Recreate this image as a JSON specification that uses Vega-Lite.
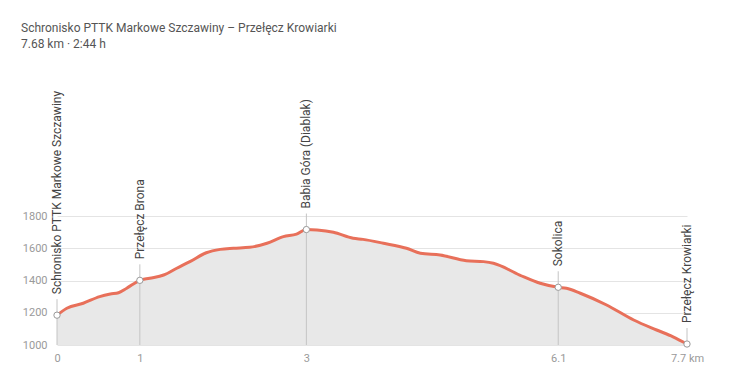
{
  "$schema": "https://vega.github.io/schema/vega-lite/v6.json",
  "width": 630,
  "height": 129,
  "autosize": {"type": "none"},
  "padding": {"left": 57, "top": 216, "right": 46, "bottom": 32},
  "background": "#ffffff",
  "config": {
    "font": "Roboto",
    "view": {"stroke": null}
  },
  "title": {
    "text": "Schronisko PTTK Markowe Szczawiny – Przełęcz Krowiarki",
    "subtitle": "7.68 km · 2:44 h",
    "anchor": "start",
    "frame": "group",
    "dx": -36,
    "offset": 40,
    "font": "Roboto",
    "fontSize": 12,
    "fontWeight": "normal",
    "color": "#555555",
    "subtitleFont": "Roboto",
    "subtitleFontSize": 12,
    "subtitleColor": "#555555",
    "subtitlePadding": 4
  },
  "datasets": {
    "profile": [
      {"km": 0, "ele": 1185},
      {"km": 0.12, "ele": 1228},
      {"km": 0.32, "ele": 1259},
      {"km": 0.52, "ele": 1300},
      {"km": 0.65, "ele": 1316},
      {"km": 0.75, "ele": 1324},
      {"km": 0.85, "ele": 1352},
      {"km": 1.01, "ele": 1401},
      {"km": 1.13, "ele": 1414},
      {"km": 1.30, "ele": 1434},
      {"km": 1.46, "ele": 1476},
      {"km": 1.62, "ele": 1517},
      {"km": 1.82, "ele": 1572},
      {"km": 1.99, "ele": 1593},
      {"km": 2.15, "ele": 1600},
      {"km": 2.35, "ele": 1606},
      {"km": 2.56, "ele": 1631},
      {"km": 2.76, "ele": 1672},
      {"km": 2.92, "ele": 1688},
      {"km": 3.04, "ele": 1716},
      {"km": 3.17, "ele": 1713},
      {"km": 3.37, "ele": 1699},
      {"km": 3.61, "ele": 1662},
      {"km": 3.73, "ele": 1655},
      {"km": 3.98, "ele": 1631},
      {"km": 4.26, "ele": 1600},
      {"km": 4.43, "ele": 1569},
      {"km": 4.67, "ele": 1558},
      {"km": 4.99, "ele": 1523},
      {"km": 5.20, "ele": 1517},
      {"km": 5.32, "ele": 1507},
      {"km": 5.64, "ele": 1434},
      {"km": 5.89, "ele": 1383},
      {"km": 6.11, "ele": 1358},
      {"km": 6.21, "ele": 1352},
      {"km": 6.38, "ele": 1321},
      {"km": 6.70, "ele": 1248},
      {"km": 7.03, "ele": 1155},
      {"km": 7.31, "ele": 1093},
      {"km": 7.51, "ele": 1051},
      {"km": 7.68, "ele": 1006}
    ],
    "waypoints": [
      {"km": 0, "ele": 1185, "name": "Schronisko PTTK Markowe Szczawiny"},
      {"km": 1.01, "ele": 1401, "name": "Przełęcz Brona"},
      {"km": 3.04, "ele": 1716, "name": "Babia Góra (Diablak)"},
      {"km": 6.11, "ele": 1358, "name": "Sokolica"},
      {"km": 7.68, "ele": 1006, "name": "Przełęcz Krowiarki"}
    ]
  },
  "encoding": {
    "x": {
      "field": "km",
      "type": "quantitative",
      "scale": {"domain": [0, 7.68], "nice": false, "zero": false},
      "axis": {
        "title": null,
        "grid": false,
        "domain": false,
        "ticks": false,
        "values": [0, 1.01, 3.04, 6.11, 7.68],
        "labelExpr": "toString(round(datum.value * 10) / 10) + (datum.value > 7.6 ? ' km' : '')",
        "labelFont": "Roboto",
        "labelFontSize": 11,
        "labelColor": "#9a9a9a",
        "labelPadding": 7,
        "labelFlush": false,
        "labelOverlap": false
      }
    },
    "y": {
      "field": "ele",
      "type": "quantitative",
      "scale": {"domain": [1000, 1800], "nice": false, "zero": false},
      "axis": {
        "title": null,
        "values": [1000, 1200, 1400, 1600, 1800],
        "format": "d",
        "domain": false,
        "ticks": false,
        "grid": true,
        "gridColor": "#e4e4e4",
        "gridWidth": 1,
        "labelFont": "Roboto",
        "labelFontSize": 11,
        "labelColor": "#9a9a9a",
        "labelPadding": 10
      }
    }
  },
  "layer": [
    {
      "data": {"name": "profile"},
      "mark": {"type": "area", "color": "#e8e8e8", "opacity": 1, "interpolate": "monotone"},
      "encoding": {"y2": {"datum": 1000}}
    },
    {
      "data": {"name": "profile"},
      "mark": {"type": "line", "color": "#e8705a", "strokeWidth": 3, "interpolate": "monotone"}
    },
    {
      "data": {"name": "waypoints"},
      "mark": {"type": "rule", "color": "#c4c4c4", "strokeWidth": 1, "y2Offset": -16},
      "encoding": {
        "y": {"datum": 1000},
        "y2": {"field": "ele"}
      }
    },
    {
      "data": {"name": "waypoints"},
      "mark": {"type": "point", "filled": true, "fill": "#ffffff", "stroke": "#9a9a9a", "strokeWidth": 1, "size": 40, "opacity": 1}
    },
    {
      "data": {"name": "waypoints"},
      "mark": {"type": "text", "angle": 270, "align": "left", "baseline": "middle", "dx": 21, "font": "Roboto", "fontSize": 12, "color": "#444444"},
      "encoding": {"text": {"field": "name"}}
    }
  ]
}
